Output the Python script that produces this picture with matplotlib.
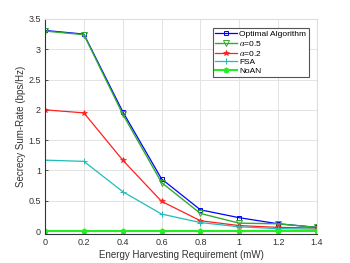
import numpy as np
import matplotlib
matplotlib.use("Agg")
import matplotlib.pyplot as plt

plt.rcParams['font.family'] = ['Liberation Sans', 'DejaVu Sans']
plt.rcParams['mathtext.fontset'] = 'stix'

# energy harvesting requirement (mW)
eh = [0, 0.2, 0.4, 0.6, 0.8, 1.0, 1.2, 1.4]

optimal = [3.31, 3.25, 1.97, 0.86, 0.35, 0.22, 0.12, 0.06]
alpha05 = [3.30, 3.24, 1.93, 0.80, 0.29, 0.13, 0.12, 0.06]
alpha02 = [2.00, 1.95, 1.17, 0.49, 0.17, 0.09, 0.06, 0.05]
fsa = [1.17, 1.15, 0.65, 0.28, 0.14, 0.07, 0.04, 0.03]
noan = [0, 0, 0, 0, 0, 0, 0, 0]

xticks = [0, 0.2, 0.4, 0.6, 0.8, 1, 1.2, 1.4]
xticklabels = ['0', '0.2', '0.4', '0.6', '0.8', '1', '1.2', '1.4']
yticks = [0, 0.5, 1, 1.5, 2, 2.5, 3, 3.5]
yticklabels = ['0', '0.5', '1', '1.5', '2', '2.5', '3', '3.5']

fig = plt.figure(figsize=(3.5, 2.63), dpi=100)
ax = fig.add_axes([0.1286, 0.110, 0.777, 0.818])

ax.plot(eh, optimal, color='#0000ff', marker='s', mfc='none', ms=3.2, lw=0.9, mew=0.7, label='Optimal Algorithm')
ax.plot(eh, alpha05, color='#33aa33', marker='v', mfc='none', ms=3.8, lw=1.0, mew=0.7, label=r'$\alpha$=0.5')
ax.plot(eh, alpha02, color='#ff2020', marker='*', ms=4, lw=0.9, mew=0.5, label=r'$\alpha$=0.2')
ax.plot(eh, fsa, color='#22bbbb', marker='+', ms=4.5, lw=0.9, mew=0.7, label='FSA')
ax.plot(eh, noan, color='#22ee22', marker='p', ms=3.5, lw=1.5, label='NoAN')

ax.set_xlim(0, 1.4)
ax.set_ylim(-0.05, 3.5)
ax.set_xticks(xticks)
ax.set_xticklabels(xticklabels)
ax.set_yticks(yticks)
ax.set_yticklabels(yticklabels)
ax.tick_params(direction='in', length=2, width=0.6, labelsize=6.5, colors='#333333', pad=3)
ax.grid(True, color='#e3e3e3', lw=0.7)
ax.set_axisbelow(True)
for s in ['left', 'bottom']:
    ax.spines[s].set_color('#333333')
    ax.spines[s].set_linewidth(0.8)
for s in ['top', 'right']:
    ax.spines[s].set_color('#dddddd')
    ax.spines[s].set_linewidth(0.8)

ax.set_xlabel('Energy Harvesting Requirement (mW)', fontsize=7, color='#333333', labelpad=2)
ax.set_ylabel('Secrecy Sum-Rate (bps/Hz)', fontsize=7, color='#333333', labelpad=2)

leg = ax.legend(loc='upper right', bbox_to_anchor=(0.97, 0.96), fontsize=6, fancybox=False,
                framealpha=1, edgecolor='#555555', handlelength=2.6, handletextpad=0.3,
                borderpad=0.3, labelspacing=0.1, borderaxespad=0)
leg.get_frame().set_linewidth(0.8)

fig.savefig('out.png', dpi=100)
